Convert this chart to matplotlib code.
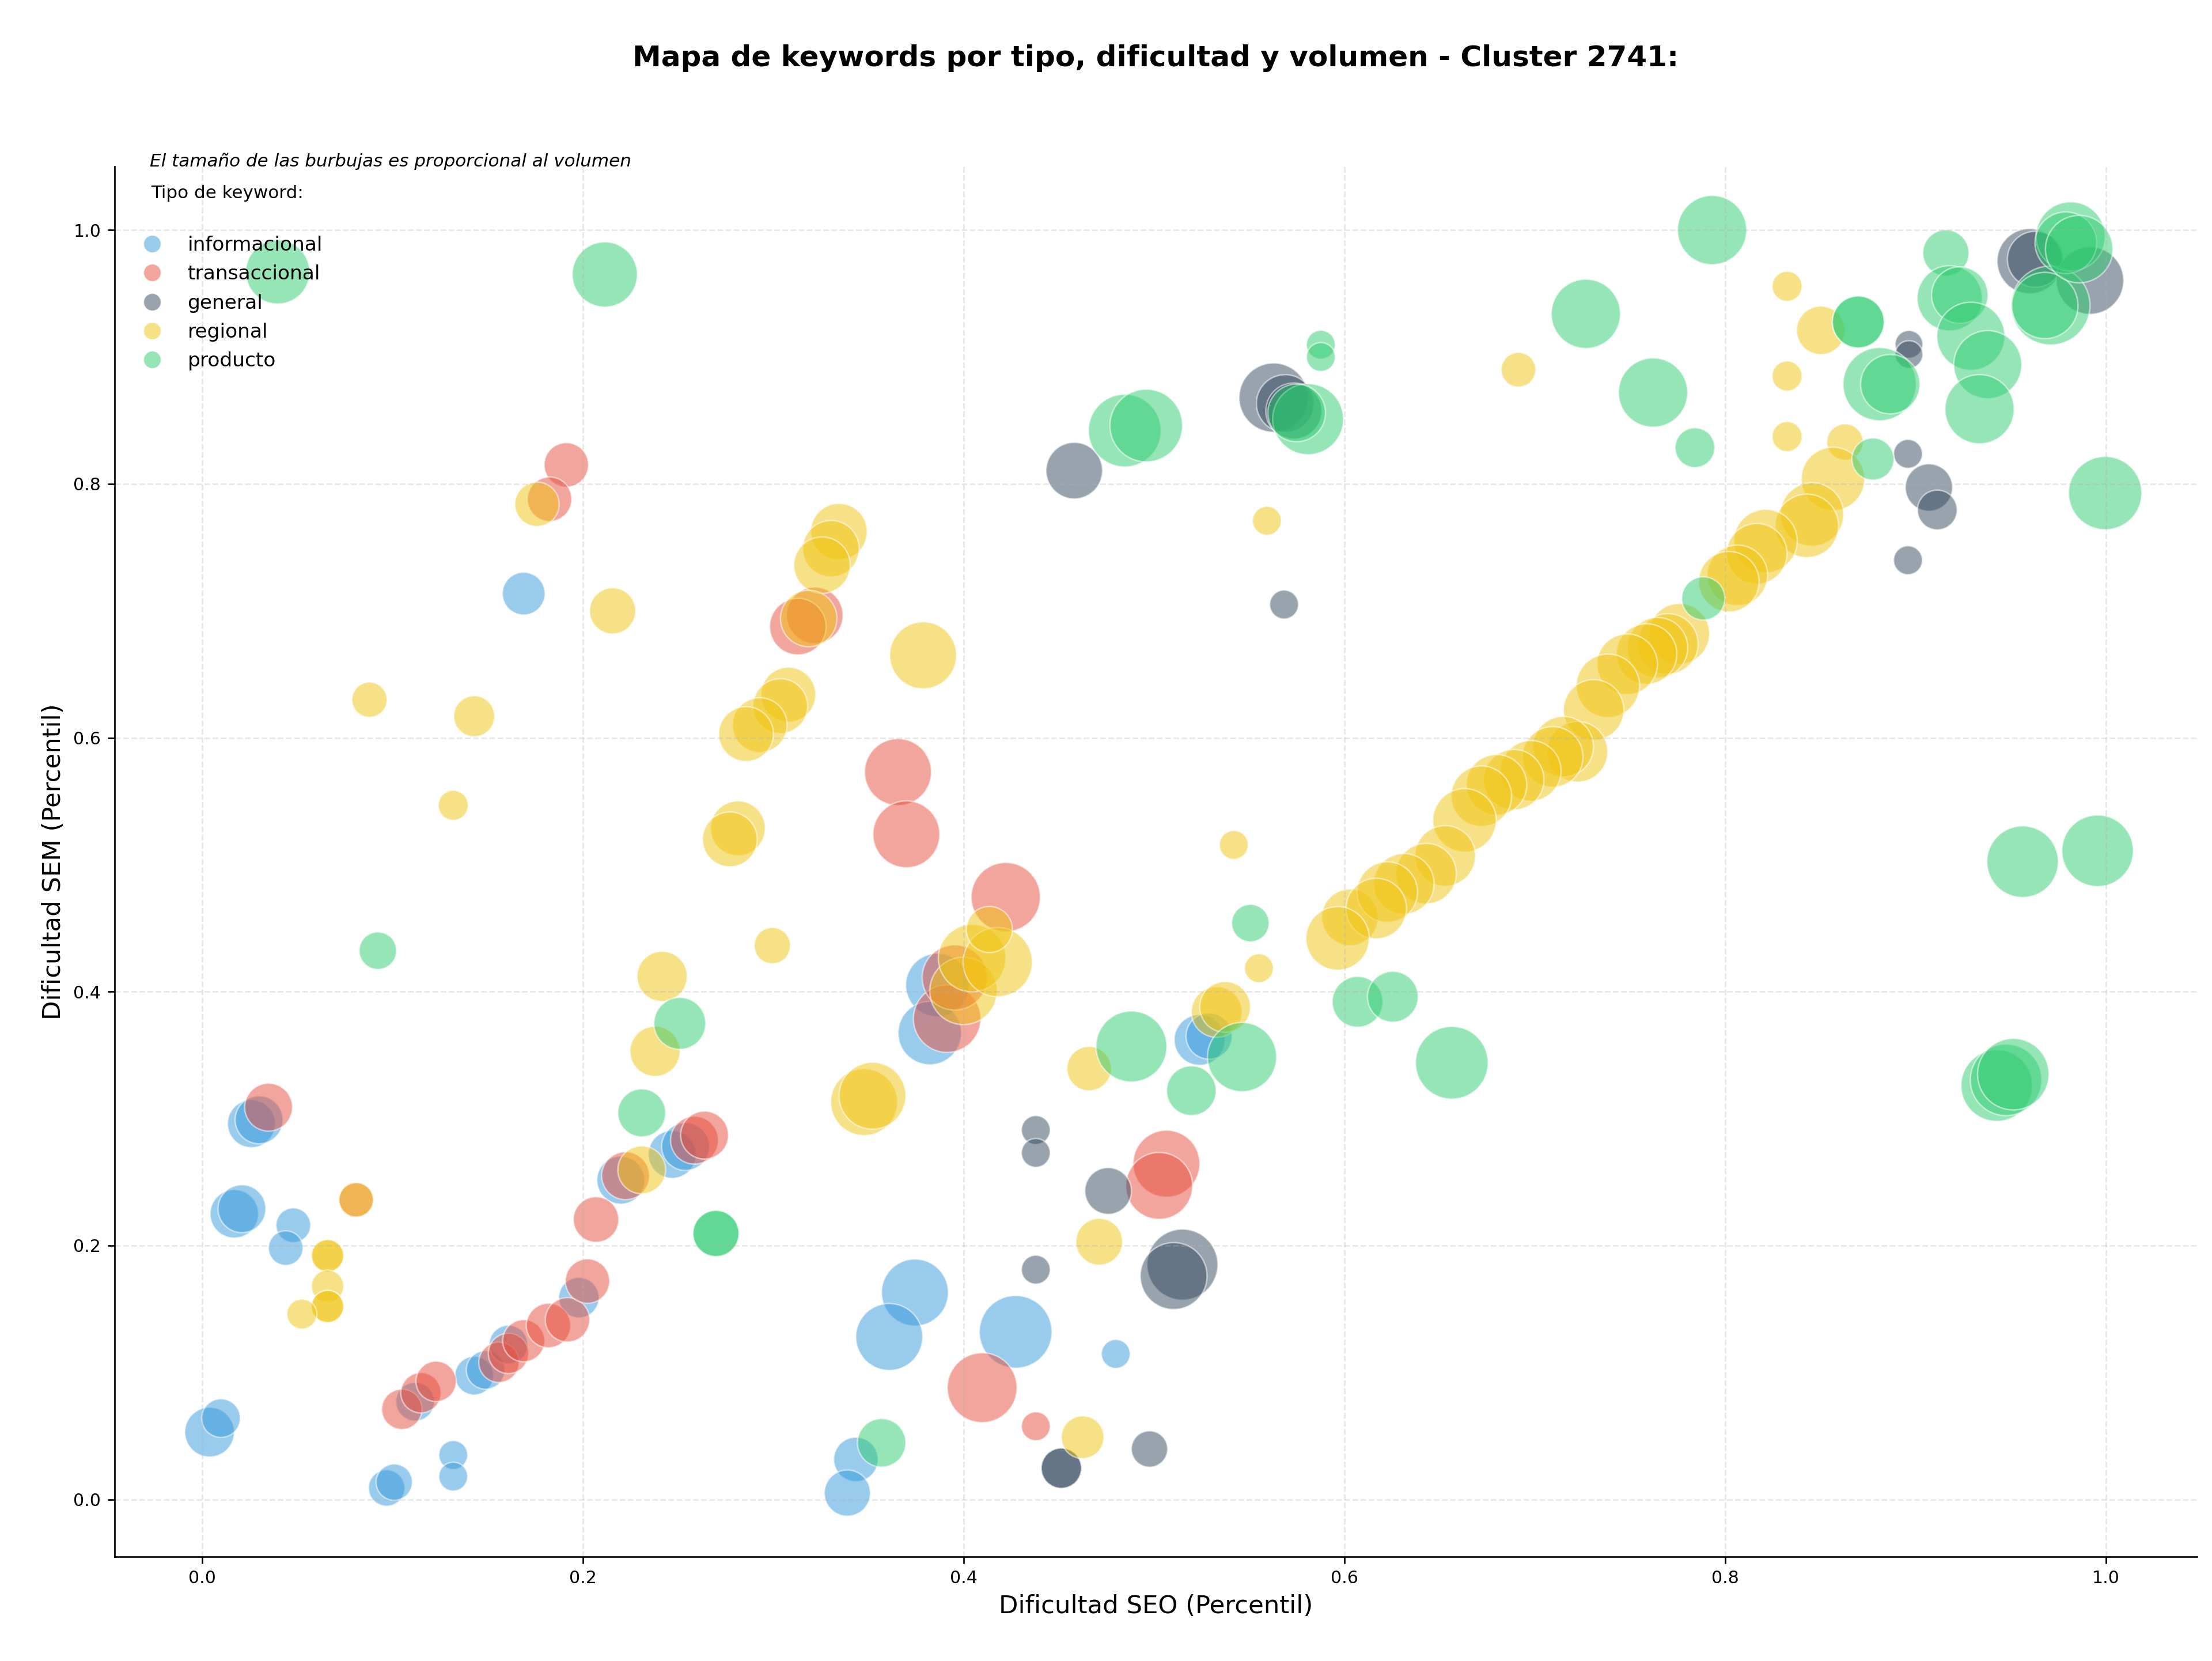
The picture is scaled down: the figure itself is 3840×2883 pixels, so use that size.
import matplotlib
matplotlib.use("Agg")
import matplotlib.pyplot as plt
from matplotlib.lines import Line2D

# ---------------- data ----------------
categorias = ["informacional", "transaccional", "general", "regional", "producto"]
colores = ["#3498db", "#e74c3c", "#34495e", "#f1c40f", "#2ecc71"]

# informacional
x_info = [0.004, 0.010, 0.017, 0.021, 0.026, 0.030, 0.048, 0.044, 0.112, 0.143, 0.149, 0.161, 0.198,
          0.132, 0.132, 0.097, 0.101, 0.220, 0.247, 0.254, 0.3745, 0.361, 0.4274, 0.480, 0.524, 0.529,
          0.3435, 0.339, 0.3863, 0.3823, 0.169]
y_info = [0.053, 0.064, 0.225, 0.229, 0.296, 0.299, 0.216, 0.198, 0.077, 0.0975, 0.102, 0.122, 0.159,
          0.035, 0.018, 0.009, 0.0136, 0.2515, 0.2718, 0.278, 0.163, 0.128, 0.132, 0.1146, 0.362, 0.365,
          0.0315, 0.005, 0.4052, 0.3674, 0.7136]
v_info = [666, 404, 635, 620, 620, 620, 324, 324, 404, 404, 404, 404, 441,
          225, 225, 357, 357, 620, 620, 620, 1211, 1211, 1429, 225, 697, 576,
          534, 576, 1089, 1089, 493]

# transaccional
x_trans = [0.035, 0.105, 0.115, 0.123, 0.156, 0.161, 0.169, 0.182, 0.192, 0.2025, 0.207, 0.2225, 0.2587,
           0.264, 0.081, 0.4098, 0.438, 0.5066, 0.5028, 0.3219, 0.313, 0.3656, 0.370, 0.4222, 0.3914,
           0.3954, 0.1914, 0.1826]
y_trans = [0.309, 0.071, 0.084, 0.093, 0.108, 0.115, 0.125, 0.137, 0.1415, 0.172, 0.2205, 0.255, 0.283,
           0.287, 0.236, 0.088, 0.0576, 0.2645, 0.247, 0.6965, 0.6876, 0.573, 0.524, 0.4745, 0.3787,
           0.4112, 0.815, 0.788]
v_trans = [620, 441, 441, 441, 441, 441, 480, 534, 534, 534, 560, 620, 620,
           620, 324, 1318, 225, 1211, 1211, 864, 864, 1211, 1211, 1296, 1232,
           1149, 534, 534]

# general
x_gen = [0.438, 0.438, 0.438, 0.476, 0.515, 0.5104, 0.4514, 0.4514, 0.4977, 0.4582, 0.5629, 0.569,
         0.5735, 0.5684, 0.8966, 0.8966, 0.8961, 0.9071, 0.9115, 0.8961, 0.960, 0.963, 0.9917]
y_gen = [0.291, 0.273, 0.181, 0.243, 0.185, 0.176, 0.0246, 0.0246, 0.0397, 0.8105, 0.868, 0.8634,
         0.8575, 0.705, 0.910, 0.902, 0.8237, 0.7972, 0.7795, 0.7399, 0.9755, 0.977, 0.9602]
v_gen = [225, 225, 225, 590, 1362, 1211, 441, 441, 357, 864, 1296, 900,
         847, 225, 207, 207, 225, 605, 428, 225, 1149, 847, 1232]

# regional
x_reg = [0.081, 0.066, 0.066, 0.066, 0.066, 0.066, 0.0525, 0.231, 0.238, 0.2417, 0.3478, 0.3522,
         0.4713, 0.4626, 0.466, 0.533, 0.5374, 0.5594, 0.3346, 0.3304, 0.3257, 0.3187, 0.3788, 0.308,
         0.3038, 0.293, 0.2858, 0.2815, 0.2773, 0.2996, 0.542, 0.5552, 0.603, 0.400, 0.4045, 0.418,
         0.4136, 0.176, 0.2157, 0.088, 0.143, 0.132, 0.8326, 0.8326, 0.8326, 0.8503, 0.6915, 0.863,
         0.8567, 0.8457, 0.843, 0.8213, 0.8167, 0.8065, 0.802, 0.776, 0.770, 0.7645, 0.7588, 0.7486,
         0.7385, 0.731, 0.7225, 0.715, 0.7095, 0.698, 0.689, 0.680, 0.672, 0.6632, 0.653, 0.643,
         0.6313, 0.6226, 0.6168, 0.5965]
y_reg = [0.236, 0.192, 0.192, 0.168, 0.152, 0.152, 0.146, 0.2596, 0.353, 0.412, 0.313, 0.318,
         0.203, 0.049, 0.3394, 0.384, 0.388, 0.771, 0.7624, 0.749, 0.736, 0.694, 0.665, 0.634,
         0.625, 0.610, 0.603, 0.5287, 0.520, 0.4363, 0.5156, 0.4185, 0.4586, 0.4006, 0.4264, 0.4233,
         0.449, 0.784, 0.700, 0.630, 0.617, 0.5468, 0.9557, 0.885, 0.8373, 0.921, 0.890, 0.833,
         0.804, 0.776, 0.767, 0.755, 0.745, 0.728, 0.723, 0.682, 0.674, 0.671, 0.666, 0.658,
         0.641, 0.622, 0.589, 0.593, 0.585, 0.574, 0.567, 0.563, 0.554, 0.535, 0.507, 0.493,
         0.485, 0.4785, 0.4655, 0.442]
v_reg = [324, 282, 282, 282, 282, 282, 243, 620, 681, 681, 1211, 1211,
         590, 493, 534, 697, 697, 225, 864, 864, 864, 864, 1211, 812,
         812, 812, 812, 812, 812, 357, 225, 225, 864, 1232, 1232, 1296,
         576, 534, 576, 335, 454, 243, 243, 243, 243, 635, 324, 357,
         1089, 1089, 1089, 1089, 992, 992, 992, 992, 992, 992, 992, 992,
         1089, 992, 992, 992, 992, 992, 992, 992, 992, 1089, 992, 992,
         992, 992, 992, 1089]

# producto
x_prod = [0.0398, 0.2116, 0.0924, 0.231, 0.251, 0.270, 0.270, 0.357, 0.4882, 0.5463, 0.5197, 0.5507,
          0.607, 0.6255, 0.6565, 0.9427, 0.9476, 0.9514, 0.9563, 0.9957, 0.9997, 0.4847, 0.496, 0.5877,
          0.5877, 0.581, 0.575, 0.7932, 0.7269, 0.7622, 0.7842, 0.870, 0.870, 0.8812, 0.8868, 0.8777,
          0.916, 0.918, 0.9233, 0.9291, 0.938, 0.9337, 0.971, 0.968, 0.9815, 0.979, 0.986, 0.7886]
y_prod = [0.967, 0.965, 0.4323, 0.3045, 0.375, 0.2095, 0.2095, 0.0446, 0.3568, 0.3485, 0.322, 0.454,
          0.392, 0.396, 0.344, 0.326, 0.3305, 0.335, 0.5024, 0.511, 0.7928, 0.842, 0.846, 0.9097,
          0.900, 0.851, 0.856, 1.0, 0.934, 0.872, 0.8286, 0.9276, 0.9276, 0.8786, 0.8786, 0.8196,
          0.982, 0.9463, 0.9488, 0.9164, 0.894, 0.8589, 0.9406, 0.9406, 0.995, 0.990, 0.985, 0.7098]
v_prod = [1109, 1149, 380, 620, 729, 576, 576, 635, 1362, 1296, 666, 380,
          697, 697, 1429, 1384, 1384, 1384, 1384, 1384, 1452, 1429, 1429, 225,
          225, 1362, 900, 1296, 1296, 1296, 428, 729, 729, 1452, 955, 480,
          576, 1149, 864, 1253, 1253, 1296, 1689, 1190, 1296, 1030, 1232, 506]

series = [(x_info, y_info, v_info), (x_trans, y_trans, v_trans), (x_gen, y_gen, v_gen),
          (x_reg, y_reg, v_reg), (x_prod, y_prod, v_prod)]

titulo = "Mapa de keywords por tipo, dificultad y volumen - Cluster 2741:"
nota = "El tamaño de las burbujas es proporcional al volumen"

# ---------------- figure ----------------
fig = plt.figure(figsize=(16, 12.0125), dpi=240)
ax = fig.add_axes([0.0517, 0.0629, 0.9416, 0.8368])

for (xs, ys, vs), cat, col in zip(series, categorias, colores):
    ax.scatter(xs, ys, s=vs, c=col, alpha=0.5, edgecolors="white", linewidths=0.8, label=cat)

ax.set_xlim(-0.046, 1.048)
ax.set_ylim(-0.045, 1.05)
ax.set_xticks([0.0, 0.2, 0.4, 0.6, 0.8, 1.0])
ax.set_yticks([0.0, 0.2, 0.4, 0.6, 0.8, 1.0])
ax.tick_params(labelsize=9)
ax.grid(True, linestyle="--", alpha=0.3)
ax.spines["top"].set_visible(False)
ax.spines["right"].set_visible(False)

ax.set_xlabel("Dificultad SEO (Percentil)", fontsize=13)
ax.set_ylabel("Dificultad SEM (Percentil)", fontsize=13)

fig.text(0.5223, 0.965, titulo, ha="center", va="center", fontsize=15, fontweight="bold")

ax.text(0.017, 1.004, nota, transform=ax.transAxes, fontsize=9.3, style="italic", va="center", ha="left")
ax.text(0.0176, 0.9807, "Tipo de keyword:", transform=ax.transAxes, fontsize=9.3, va="center", ha="left")

handles = [Line2D([0], [0], marker="o", linestyle="", markersize=9, markerfacecolor=c,
                  markeredgecolor="white", markeredgewidth=0.5, alpha=0.5) for c in colores]
ax.legend(handles, categorias, loc="upper left", bbox_to_anchor=(0.0, 0.963), frameon=False,
          fontsize=10.3, labelspacing=0.5, borderaxespad=0.5)

fig.savefig("out.png", dpi=240)
